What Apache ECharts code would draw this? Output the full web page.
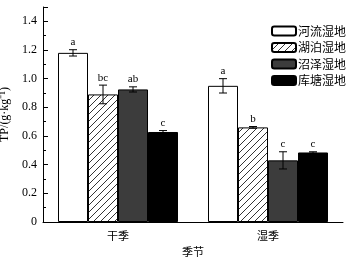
<!DOCTYPE html>
<html><head><meta charset="utf-8">
<script src="https://cdn.jsdelivr.net/npm/echarts@6/dist/echarts.min.js"></script>
<style>html,body{margin:0;padding:0;background:#fff}#c{width:349px;height:258px}</style>
</head><body><div id="c"></div>
<script>
const categories = ['干季', '湿季'];
const seriesNames = ['河流湿地', '湖泊湿地', '沼泽湿地', '库塘湿地'];
const riverVals = [1.18, 0.95];
const lakeVals = [0.89, 0.66];
const marshVals = [0.925, 0.43];
const pondVals = [0.628, 0.485];
const riverErr = [0.022, 0.05];
const lakeErr = [0.065, 0.006];
const marshErr = [0.018, 0.06];
const pondErr = [0.01, 0.005];
const riverSig = ['a', 'a'];
const lakeSig = ['bc', 'b'];
const marshSig = ['ab', 'c'];
const pondSig = ['c', 'c'];
const yTicks = [0, 0.2, 0.4, 0.6, 0.8, 1.0, 1.2, 1.4];

const vals = [riverVals, lakeVals, marshVals, pondVals];
const errs = [riverErr, lakeErr, marshErr, pondErr];
const sigs = [riverSig, lakeSig, marshSig, pondSig];

function hatch() {
  const c = document.createElement('canvas');
  c.width = 7; c.height = 7;
  const g = c.getContext('2d');
  g.fillStyle = '#fff'; g.fillRect(0, 0, 7, 7);
  g.strokeStyle = '#000'; g.lineWidth = 0.8;
  g.beginPath();
  g.moveTo(-1, 8); g.lineTo(8, -1);
  g.moveTo(-1, 1); g.lineTo(1, -1);
  g.moveTo(6, 8); g.lineTo(8, 6);
  g.stroke();
  return c;
}
const fills = ['#ffffff', { image: hatch(), repeat: 'repeat' }, '#3c3c3c', '#000000'];
const FONT = '"Liberation Serif", "Times New Roman", serif';
const CJK = '"Noto Sans CJK SC", sans-serif';
const BARW = 0.2;

const series = seriesNames.map((n, i) => ({
  name: n, type: 'bar', barWidth: (BARW * 100) + '%', barGap: '0%',
  data: vals[i],
  itemStyle: { color: fills[i], borderColor: '#000', borderWidth: 1 },
  emphasis: { disabled: true }, animation: false
}));

const errData = [];
vals.forEach((arr, i) => arr.forEach((v, k) => errData.push([k, v, errs[i][k], i, sigs[i][k]])));
series.push({
  type: 'custom', silent: true, animation: false, z: 10,
  data: errData,
  renderItem: function (params, api) {
    const k = api.value(0), v = api.value(1), e = api.value(2), i = api.value(3);
    const sig = errData[params.dataIndex][4];
    const band = api.size([1, 0])[0];
    const cx = api.coord([k, v])[0] + (i - 1.5) * BARW * band;
    const top = api.coord([k, v + e])[1];
    const bot = api.coord([k, v - e])[1];
    const cap = 4;
    const st = { stroke: '#000', lineWidth: 1 };
    return { type: 'group', children: [
      { type: 'line', shape: { x1: cx, y1: top, x2: cx, y2: bot }, style: st },
      { type: 'line', shape: { x1: cx - cap, y1: top, x2: cx + cap, y2: top }, style: st },
      { type: 'line', shape: { x1: cx - cap, y1: bot, x2: cx + cap, y2: bot }, style: st },
      { type: 'text', style: { text: sig, x: cx, y: top - 2, textAlign: 'center', textVerticalAlign: 'bottom', font: '11px ' + FONT, fill: '#000' } }
    ]};
  }
});

const chart = echarts.init(document.getElementById('c'), null, { renderer: 'canvas' });
chart.setOption({
  animation: false,
  grid: { left: 43, right: 6, top: 7, bottom: 36, containLabel: false, outerBoundsMode: 'none' },
  legend: {
    data: seriesNames, orient: 'vertical', left: 266, top: 20,
    itemWidth: 24, itemHeight: 9, itemGap: 4.5,
    textStyle: { fontFamily: CJK, fontSize: 12, color: '#000', padding: [0, 0, 0, -3] },
    selectedMode: false
  },
  xAxis: {
    type: 'category', data: categories,
    name: '季节', nameLocation: 'middle', nameGap: 24,
    nameTextStyle: { fontFamily: CJK, fontSize: 11, color: '#000' },
    axisLine: { lineStyle: { color: '#000', width: 1 } },
    axisTick: { show: false },
    axisLabel: { fontFamily: CJK, fontSize: 11, color: '#000', margin: 8 }
  },
  yAxis: {
    type: 'value', min: 0, max: 1.5, interval: 0.2,
    name: 'TP/(g·kg⁻¹)', nameLocation: 'middle', nameGap: 30,
    nameTextStyle: { fontFamily: FONT, fontSize: 12, color: '#000' },
    axisLine: { show: true, lineStyle: { color: '#000', width: 1 } },
    axisTick: { show: true, inside: true, length: 5, lineStyle: { color: '#000' } },
    minorTick: { show: true, splitNumber: 2, length: 3, lineStyle: { color: '#000' } },
    splitLine: { show: false },
    axisLabel: {
      fontFamily: FONT, fontSize: 12, color: '#000', margin: 6, showMaxLabel: false,
      formatter: v => (yTicks.some(t => Math.abs(t - v) < 1e-6) ? (v === 0 ? '0' : v.toFixed(1)) : '')
    }
  },
  series: series
});
</script></body></html>
